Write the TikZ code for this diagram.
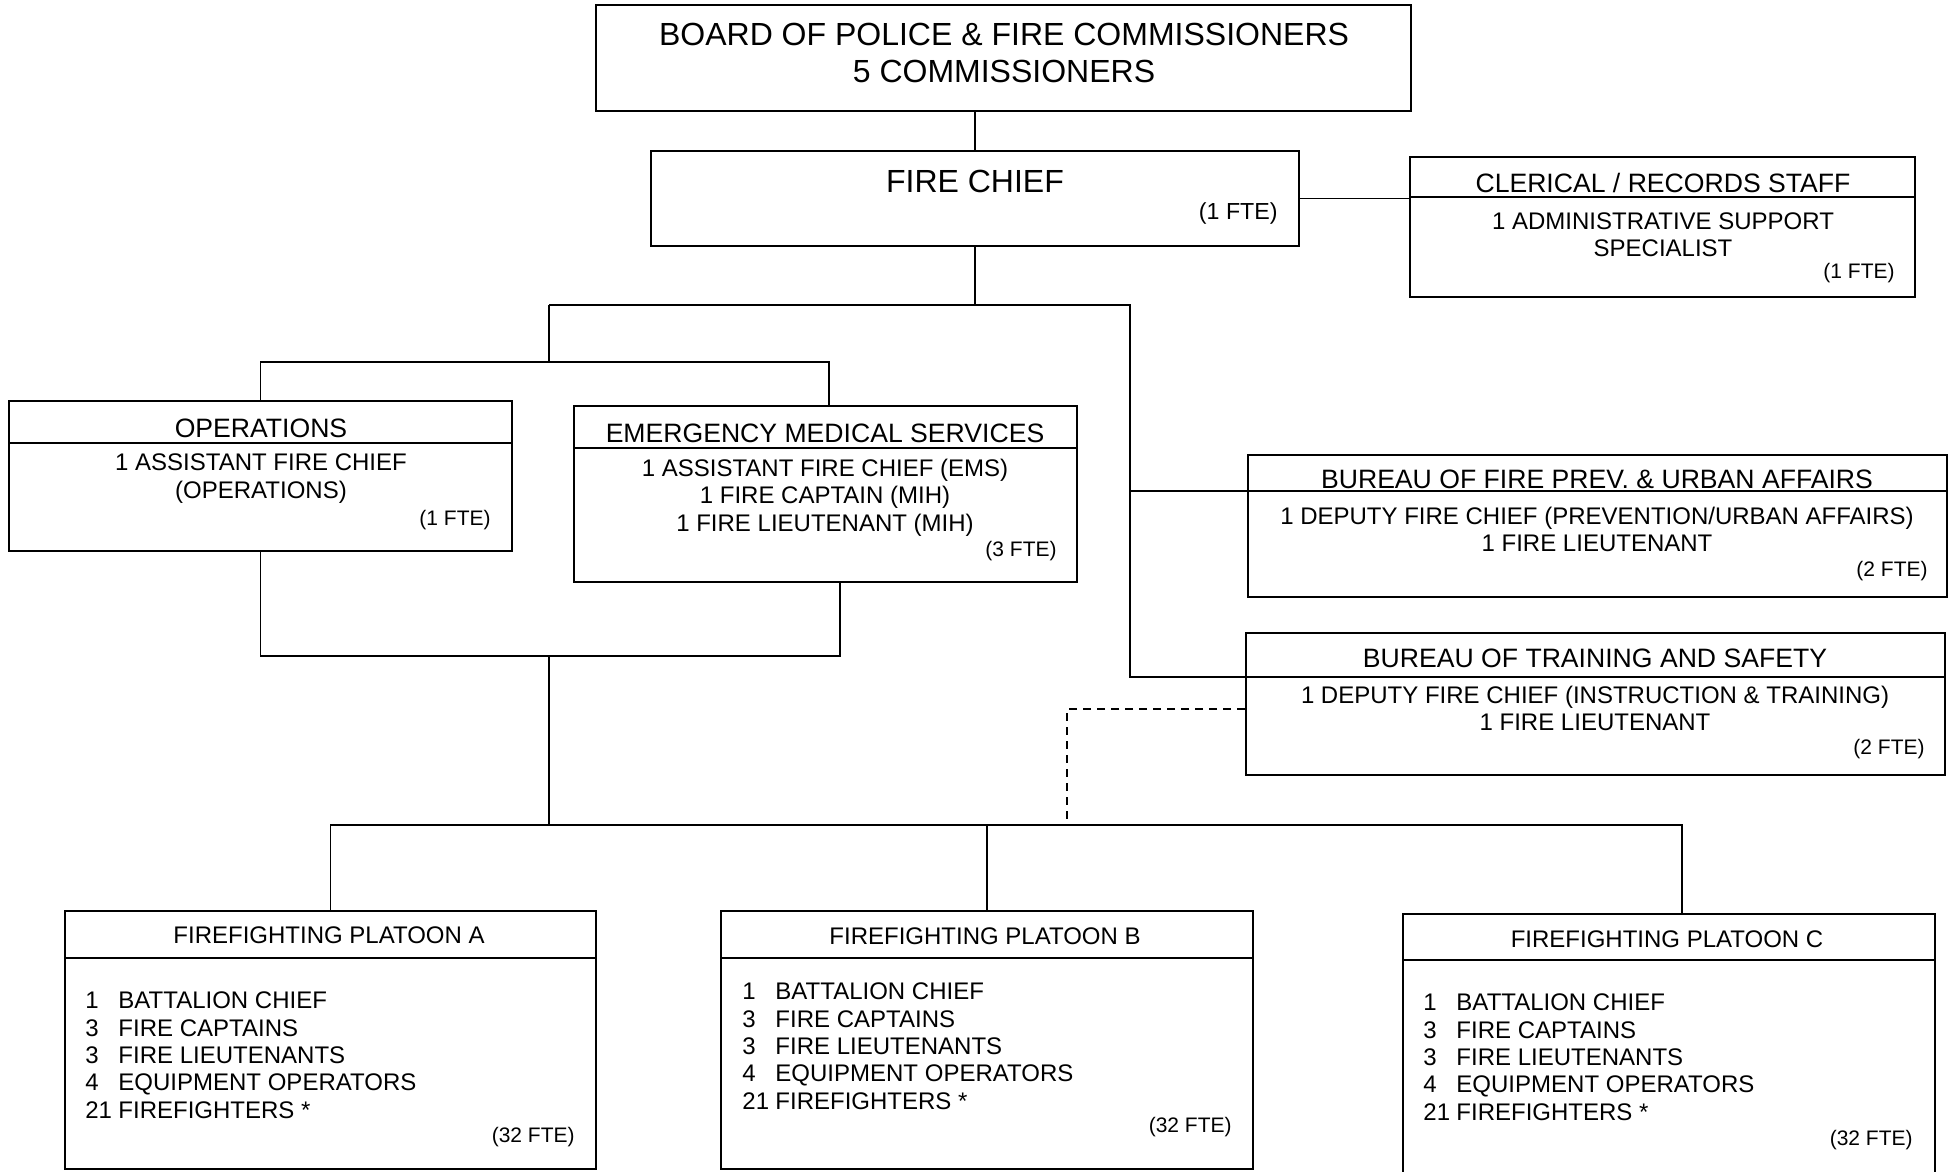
\documentclass[tikz,border=0pt]{standalone}
\usepackage{fontspec}
\setmainfont{Liberation Sans}
\usetikzlibrary{calc}

\begin{document}
\begin{tikzpicture}[x=0.5pt,y=-0.5pt,
        box/.style={draw,line width=1pt,inner sep=0pt},
        link/.style={line width=0.9pt},
        big/.style={font=\fontsize{16}{18.5}\selectfont,align=center,inner sep=0pt},
        head/.style={font=\fontsize{13.3}{15}\selectfont,inner sep=0pt},
        body/.style={font=\fontsize{12}{13.7}\selectfont,align=center,inner sep=0pt},
        fte/.style={font=\fontsize{10.5}{12}\selectfont,anchor=east,inner sep=0pt}]
                \useasboundingbox (0,0) rectangle (1955,1172);

                % boxes
                \node[box,minimum width=407.5pt,minimum height=53pt] (board) at (1003.5,58) {};
                \node[box,minimum width=324pt,minimum height=47.5pt] (chief) at (975,198.5) {};
                \node[box,minimum width=252.5pt,minimum height=70pt] (clerical) at (1662.5,227) {};
                \node[box,minimum width=251.5pt,minimum height=75pt] (ops) at (260.5,476) {};
                \node[box,minimum width=251.5pt,minimum height=88pt] (ems) at (825.5,494) {};
                \node[box,minimum width=349.5pt,minimum height=71pt] (prev) at (1597.5,526) {};
                \node[box,minimum width=349.5pt,minimum height=71pt] (train) at (1595.5,704) {};
                \node[box,minimum width=265.5pt,minimum height=129pt] (platA) at (330.5,1040) {};
                \node[box,minimum width=266pt,minimum height=129pt] (platB) at (987,1040) {};
                \node[box,minimum width=266pt,minimum height=133pt] (platC) at (1669,1047) {};

                % header rules
                \draw[line width=1pt] (clerical.west |- 0,197) -- (clerical.east |- 0,197);
                \draw[line width=1pt] (ops.west |- 0,443) -- (ops.east |- 0,443);
                \draw[line width=1pt] (ems.west |- 0,448) -- (ems.east |- 0,448);
                \draw[line width=1pt] (prev.west |- 0,491) -- (prev.east |- 0,491);
                \draw[line width=1pt] (train.west |- 0,677) -- (train.east |- 0,677);
                \draw[line width=1pt] (platA.west |- 0,958) -- (platA.east |- 0,958);
                \draw[line width=1pt] (platB.west |- 0,958) -- (platB.east |- 0,958);
                \draw[line width=1pt] (platC.west |- 0,960) -- (platC.east |- 0,960);

                % texts
                \node[big] (boardT) at (1004,52.5) {BOARD OF POLICE \& FIRE COMMISSIONERS\\5 COMMISSIONERS};
                \node[big] (chiefT) at (975,181) {FIRE CHIEF};
                \node[fte,font=\fontsize{11.6}{13}\selectfont] (chiefF) at (1278,213) {(1 FTE)};

                \node[head] (clericalT) at (1663,183) {CLERICAL / RECORDS STAFF};
                \node[body] (clericalB) at (1663,234.5) {1 ADMINISTRATIVE SUPPORT\\SPECIALIST};
                \node[fte] (clericalF) at (1895,273) {(1 FTE)};

                \node[head] (opsT) at (261,428) {OPERATIONS};
                \node[body] (opsB) at (261,478.5) {1 ASSISTANT FIRE CHIEF\\(OPERATIONS)};
                \node[fte] (opsF) at (491,520) {(1 FTE)};

                \node[head] (emsT) at (825,433) {EMERGENCY MEDICAL SERVICES};
                \node[body] (emsB) at (825,497.5) {1 ASSISTANT FIRE CHIEF (EMS)\\1 FIRE CAPTAIN (MIH)\\1 FIRE LIEUTENANT (MIH)};
                \node[fte] (emsF) at (1057,551) {(3 FTE)};

                \node[head] (prevT) at (1597,479) {BUREAU OF FIRE PREV. \& URBAN AFFAIRS};
                \node[body] (prevB) at (1597,529.5) {1 DEPUTY FIRE CHIEF (PREVENTION/URBAN AFFAIRS)\\1 FIRE LIEUTENANT};
                \node[fte] (prevF) at (1928,571) {(2 FTE)};

                \node[head] (trainT) at (1595,658) {BUREAU OF TRAINING AND SAFETY};
                \node[body] (trainB) at (1595,708.5) {1 DEPUTY FIRE CHIEF (INSTRUCTION \& TRAINING)\\1 FIRE LIEUTENANT};
                \node[fte] (trainF) at (1925,749) {(2 FTE)};

                \node[body] (platAT) at (329,935) {FIREFIGHTING PLATOON A};
                \node[body,anchor=west] (platAB) at (85,1058) {\begin{tabular}{@{}l@{\hspace{3.2pt}}l@{}}
                    1 & BATTALION CHIEF\\ 3 & FIRE CAPTAINS\\ 3 & FIRE LIEUTENANTS\\
                    4 & EQUIPMENT OPERATORS\\ 21 & FIREFIGHTERS *
                    \end{tabular}};
                \node[fte] (platAF) at (575,1137) {(32 FTE)};

                \node[body] (platBT) at (985,936) {FIREFIGHTING PLATOON B};
                \node[body,anchor=west] (platBB) at (742,1049) {\begin{tabular}{@{}l@{\hspace{3.2pt}}l@{}}
                    1 & BATTALION CHIEF\\ 3 & FIRE CAPTAINS\\ 3 & FIRE LIEUTENANTS\\
                    4 & EQUIPMENT OPERATORS\\ 21 & FIREFIGHTERS *
                    \end{tabular}};
                \node[fte] (platBF) at (1232,1127) {(32 FTE)};

                \node[body] (platCT) at (1667,939) {FIREFIGHTING PLATOON C};
                \node[body,anchor=west] (platCB) at (1423,1060) {\begin{tabular}{@{}l@{\hspace{3.2pt}}l@{}}
                    1 & BATTALION CHIEF\\ 3 & FIRE CAPTAINS\\ 3 & FIRE LIEUTENANTS\\
                    4 & EQUIPMENT OPERATORS\\ 21 & FIREFIGHTERS *
                    \end{tabular}};
                \node[fte] (platCF) at (1913,1140) {(32 FTE)};

                % connectors
                \coordinate (j1) at (549,305);
                \coordinate (j2) at (1130,305);
                \coordinate (j3) at (549,362);
                \coordinate (j4) at (549,656);
                \coordinate (j5) at (840,656);
                \coordinate (j6) at (549,825);
                \coordinate (j7) at (1682,825);
                \coordinate (p1) at (1130,491);
                \coordinate (t1) at (1130,677);
                \coordinate (d1) at (1067,709);

                \draw[link] (chief.north) -- (chief.north |- board.south);
                \draw[link] (chief.east) -- (chief.east -| clerical.west);
                \draw[link] (chief.south) -- (chief.south |- j1);
                \draw[link] (j1) -- (j2) -- (t1) -- (t1 -| train.west);
                \draw[link] (p1) -- (p1 -| prev.west);
                \draw[link] (j1) -- (j3);
                \draw[link] (ops.north) |- (j3) -| (ems.north -| 829,0);
                \draw[link] (ops.south) |- (j5) -- (j5 |- ems.south);
                \draw[link] (j4) -- (j6);
                \draw[link] (platA.north) |- (j7) -- (j7 |- platC.north);
                \draw[link] (platB.north) -- (platB.north |- j7);
                \draw[link,dash pattern=on 4pt off 3pt] (d1 -| train.west) -- (d1) -- (d1 |- j7);
            \end{tikzpicture}
\end{document}
